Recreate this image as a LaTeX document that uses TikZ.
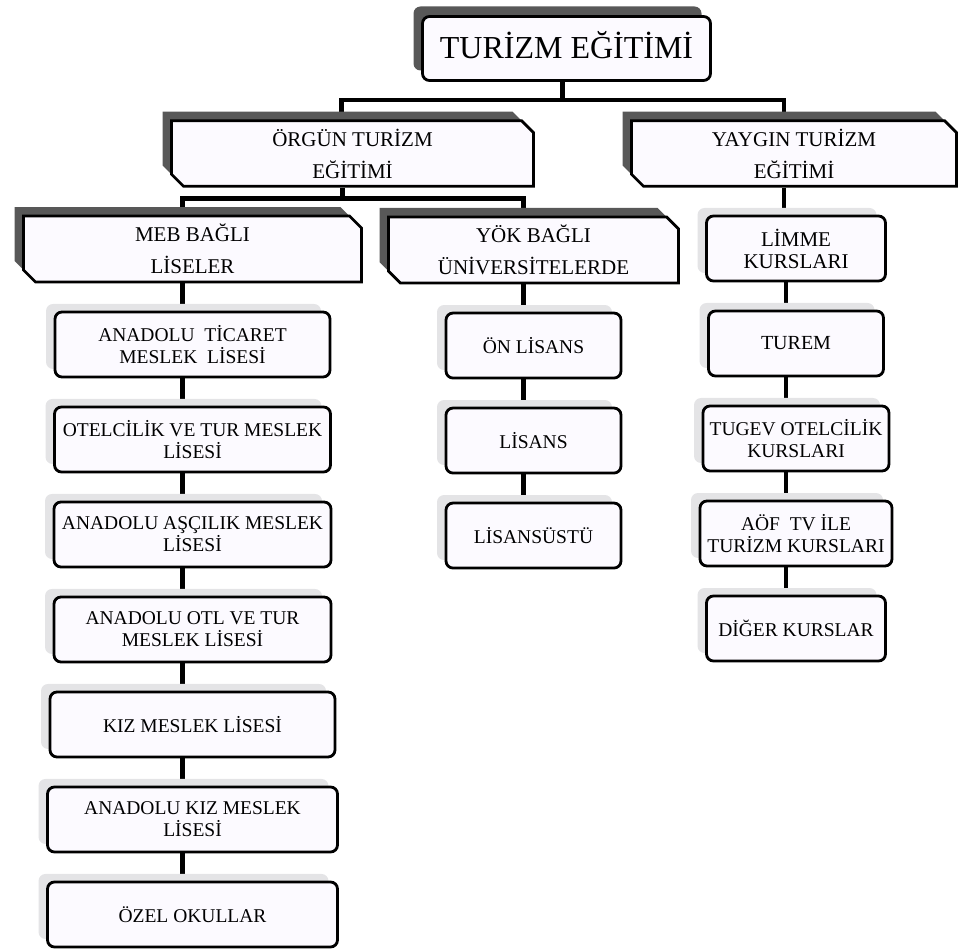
\documentclass[tikz,border=0pt]{standalone}
\usepackage{fontspec}
\setmainfont{Liberation Serif}
\usepackage{tikz}
\usetikzlibrary{shapes.misc,shadows,positioning,backgrounds}
\definecolor{boxfill}{RGB}{252,250,255}
\definecolor{shade}{RGB}{88,88,88}
\definecolor{ghost}{RGB}{228,228,230}
\tikzset{
	topbox/.style={
		draw, rectangle, rounded corners=7pt, line width=2.8pt,
		fill=boxfill, minimum width=288pt, minimum height=64pt,
		text depth=8pt, font=\fontsize{32}{36}\selectfont,
		drop shadow={shadow xshift=-9pt, shadow yshift=10pt, fill=shade, opacity=1}
	},
	headbox/.style={
		draw, chamfered rectangle,
		chamfered rectangle corners={north east,south west},
		chamfered rectangle sep=6pt, line width=2.8pt, fill=boxfill,
		minimum height=64pt, align=center, inner sep=2pt,
		font=\fontsize{21}{32}\selectfont,
		drop shadow={shadow xshift=-9pt, shadow yshift=9pt, fill=shade, opacity=1}
	},
	leaf/.style={
		draw, rectangle, rounded corners=7pt, line width=2.8pt,
		fill=boxfill, minimum height=65pt, align=center, inner sep=2pt,
		font=\fontsize{19.5}{22}\selectfont,
		drop shadow={shadow xshift=-9pt, shadow yshift=8pt, fill=ghost, opacity=1}
	},
	tleaf/.style={leaf, font=\fontsize{21}{22}\selectfont},
	link/.style={line width=4.5pt},
	node distance=27.2pt
}

\begin{document}
\begin{tikzpicture}[x=1pt,y=-1pt]
	\useasboundingbox (0,0) rectangle (961,949);
	\node[topbox] (turizm) at (566.5,48.5) {TURİZM EĞİTİMİ};
	\node[headbox, minimum width=362pt] (orgun) at (352.5,153.5) {ÖRGÜN TURİZM\\EĞİTİMİ};
	\node[headbox, minimum width=325pt] (yaygin) at (794,153.5) {YAYGIN TURİZM\\EĞİTİMİ};
	\node[headbox, minimum width=338pt] (meb) at (192.5,249) {MEB BAĞLI\\LİSELER};
	\node[headbox, minimum width=290pt] (yok) at (533.5,250) {YÖK BAĞLI\\ÜNİVERSİTELERDE};
	\node[leaf, minimum width=275pt] (atl) [below=of meb] {ANADOLU\ \ TİCARET\\MESLEK\ \ LİSESİ};
	\node[leaf, minimum width=276pt] (otel) [below=of atl] {OTELCİLİK VE TUR MESLEK\\LİSESİ};
	\node[leaf, minimum width=277pt] (asci) [below=of otel] {ANADOLU AŞÇILIK MESLEK\\LİSESİ};
	\node[leaf, minimum width=277pt] (aotl) [below=of asci] {ANADOLU OTL VE TUR\\MESLEK LİSESİ};
	\node[leaf, minimum width=285pt] (kiz) [below=of aotl] {KIZ MESLEK LİSESİ};
	\node[leaf, minimum width=290pt] (akiz) [below=of kiz] {ANADOLU KIZ MESLEK\\LİSESİ};
	\node[leaf, minimum width=290pt] (ozel) [below=of akiz] {ÖZEL OKULLAR};
	\node[leaf, minimum width=175pt] (onlis) [below=of yok] {ÖN LİSANS};
	\node[leaf, minimum width=175pt] (lis) [below=of onlis] {LİSANS};
	\node[leaf, minimum width=175pt] (lisust) [below=of lis] {LİSANSÜSTÜ};
	\node[tleaf, minimum width=179pt] (limme) at (796,248.5) {LİMME\\KURSLARI};
	\node[tleaf, minimum width=175pt, font=\fontsize{20}{22}\selectfont] (turem) [below=of limme] {TUREM};
	\node[leaf, minimum width=186pt] (tugev) [below=of turem] {TUGEV OTELCİLİK\\KURSLARI};
	\node[leaf, minimum width=192pt] (aof) [below=of tugev] {AÖF\ \ TV İLE\\TURİZM KURSLARI};
	\node[leaf, minimum width=179pt] (diger) [below=of aof] {DİĞER KURSLAR};
	\begin{scope}[on background layer]
		\coordinate (tbar) at ([xshift=-4pt,yshift=-18pt]turizm.south);
		\coordinate (obar) at ([xshift=-10pt,yshift=-11pt]orgun.south);
		\draw[link] ([xshift=-4pt]turizm.south) -- (tbar);
		\draw[link] ([xshift=-11pt]orgun.north) |- (tbar) -| ([xshift=-10pt]yaygin.north);
		\draw[link] ([xshift=-10pt]orgun.south) -- (obar);
		\draw[link] ([xshift=-10pt]meb.north) |- (obar) -| ([xshift=-10pt]yok.north);
		\draw[link] ([xshift=-10pt]yaygin.south) -- ([xshift=-10pt]yaygin.south |- limme.north);
		\draw[link] ([xshift=-10pt]meb.south) -- ([xshift=-10pt]atl.north);
		\draw[link] ([xshift=-10pt]atl.south) -- ([xshift=-10pt]otel.north);
		\draw[link] ([xshift=-10pt]otel.south) -- ([xshift=-10pt]asci.north);
		\draw[link] ([xshift=-10pt]asci.south) -- ([xshift=-10pt]aotl.north);
		\draw[link] ([xshift=-10pt]aotl.south) -- ([xshift=-10pt]kiz.north);
		\draw[link] ([xshift=-10pt]kiz.south) -- ([xshift=-10pt]akiz.north);
		\draw[link] ([xshift=-10pt]akiz.south) -- ([xshift=-10pt]ozel.north);
		\draw[link] ([xshift=-10pt]yok.south) -- ([xshift=-10pt]onlis.north);
		\draw[link] ([xshift=-10pt]onlis.south) -- ([xshift=-10pt]lis.north);
		\draw[link] ([xshift=-10pt]lis.south) -- ([xshift=-10pt]lisust.north);
		\draw[link] ([xshift=-10pt]limme.south) -- ([xshift=-10pt]turem.north);
		\draw[link] ([xshift=-10pt]turem.south) -- ([xshift=-10pt]tugev.north);
		\draw[link] ([xshift=-10pt]tugev.south) -- ([xshift=-10pt]aof.north);
		\draw[link] ([xshift=-10pt]aof.south) -- ([xshift=-10pt]diger.north);
	\end{scope}
\end{tikzpicture}
\end{document}
